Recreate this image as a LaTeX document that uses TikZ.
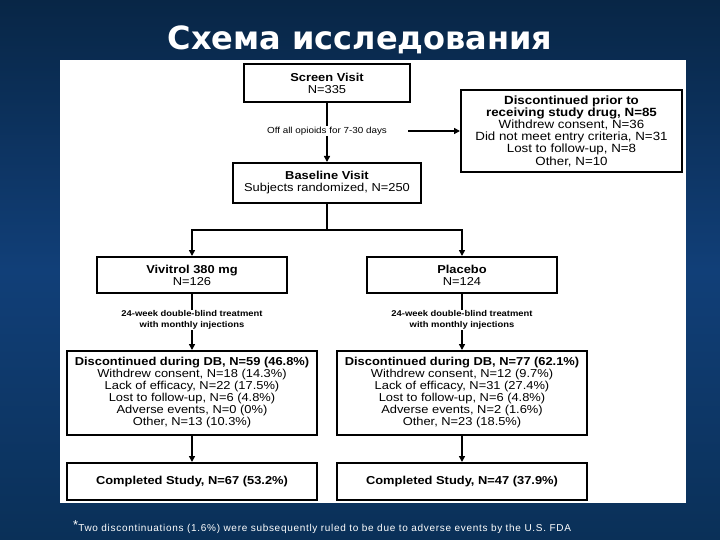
\documentclass[tikz,border=0pt]{standalone}
\usepackage{fontspec}
\setmainfont[FakeStretch=1.12]{Liberation Sans}
\newfontfamily\titlefont{DejaVu Sans}
\newfontfamily\footfont[LetterSpace=7]{Liberation Sans}
\usetikzlibrary{arrows.meta}
\definecolor{bgTop}{RGB}{8,38,70}
\definecolor{bgMid}{RGB}{17,63,120}
\definecolor{bgBot}{RGB}{10,48,88}
\begin{document}
\begin{tikzpicture}[x=1pt,y=-1pt,
  box/.style={draw=black,line width=2pt,fill=white,align=center,inner sep=0pt,
    font=\fontsize{11.5}{12}\selectfont},
  conn/.style={line width=2.2pt,draw=black},
  arr/.style={conn,-{Triangle[length=6pt,width=6pt]}},
  lbl/.style={fill=white,inner sep=1pt,align=center,font=\fontsize{8.8}{10}\selectfont}
]
\useasboundingbox (0,0) rectangle (720,540);
\shade[top color=bgTop,bottom color=bgBot,middle color=bgMid] (0,0) rectangle (720,540);
\fill[white] (60,60) rectangle (686,503);

% title
\node (title) [text=white,font=\titlefont\bfseries\fontsize{32}{33}\selectfont] at (360,40) {Схема исследования};

% boxes
\node (screen) [box,minimum width=166pt,minimum height=38pt] at (327,83)
  {\textbf{Screen Visit}\\N=335};
\node (disc0) [box,minimum width=221pt,minimum height=82pt,font=\fontsize{11.9}{12.2}\selectfont] at (571.5,131)
  {\textbf{Discontinued prior to}\\\textbf{receiving study drug, N=85}\\Withdrew consent, N=36\\Did not meet entry criteria, N=31\\Lost to follow-up, N=8\\Other, N=10};
\node (base) [box,minimum width=188pt,minimum height=40pt] at (327,183)
  {\textbf{Baseline Visit}\\Subjects randomized, N=250};
\node (viv) [box,minimum width=190pt,minimum height=36pt] at (192,275)
  {\textbf{Vivitrol 380 mg}\\N=126};
\node (plac) [box,minimum width=190pt,minimum height=36pt] at (462,275)
  {\textbf{Placebo}\\N=124};
\node (db1) [box,minimum width=250pt,minimum height=84pt] at (192,393)
  {\textbf{Discontinued during DB, N=59 (46.8\%)}\\Withdrew consent, N=18 (14.3\%)\\Lack of efficacy, N=22 (17.5\%)\\Lost to follow-up, N=6 (4.8\%)\\Adverse events, N=0 (0\%)\\Other, N=13 (10.3\%)};
\node (db2) [box,minimum width=250pt,minimum height=84pt] at (462,393)
  {\textbf{Discontinued during DB, N=77 (62.1\%)}\\Withdrew consent, N=12 (9.7\%)\\Lack of efficacy, N=31 (27.4\%)\\Lost to follow-up, N=6 (4.8\%)\\Adverse events, N=2 (1.6\%)\\Other, N=23 (18.5\%)};
\node (comp1) [box,minimum width=250pt,minimum height=37pt] at (192,481.5)
  {\textbf{Completed Study, N=67 (53.2\%)}};
\node (comp2) [box,minimum width=250pt,minimum height=37pt] at (462,481.5)
  {\textbf{Completed Study, N=47 (37.9\%)}};

% connectors
\draw[arr] (screen) -- (base);
\coordinate (offend) at (408,131);
\draw[arr] (offend) -- (disc0.west);
\draw[conn] (base.south) -- ++(0,26) coordinate (split);
\draw[arr] (split) -| (viv.north);
\draw[arr] (split) -| (plac.north);
\draw[arr] (viv) -- (db1);
\draw[arr] (plac) -- (db2);
\draw[arr] (db1) -- (comp1);
\draw[arr] (db2) -- (comp2);

% labels on connectors
\node (off) [lbl] at (327,131) {Off all opioids for 7-30 days};
\node (trt1) [lbl,font=\bfseries\fontsize{8.4}{10.5}\selectfont] at (192,320)
  {24-week double-blind treatment\\with monthly injections};
\node (trt2) [lbl,font=\bfseries\fontsize{8.4}{10.5}\selectfont] at (462,320)
  {24-week double-blind treatment\\with monthly injections};

% footnote
\node (foot) [anchor=west,text=white,inner sep=0pt,font=\footfont\fontsize{10}{11}\selectfont] at (73,527)
  {\raisebox{1.5pt}{\fontsize{13}{13}\selectfont *}Two discontinuations (1.6\%) were subsequently ruled to be due to adverse events by the U.S. FDA};
\end{tikzpicture}
\end{document}
